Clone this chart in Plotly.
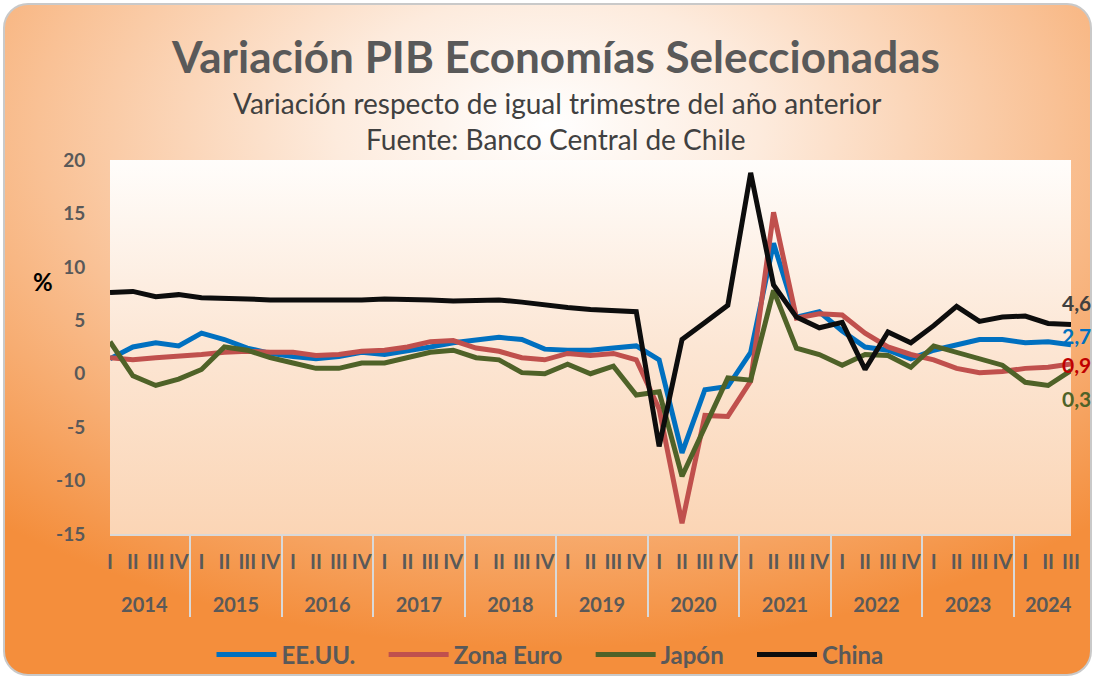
import base64
import plotly.graph_objects as go

years = ["2014", "2015", "2016", "2017", "2018", "2019", "2020", "2021", "2022", "2023", "2024"]
quarter_names = ["I", "II", "III", "IV"]
quarters_last_year = 3

usa = [1.4, 2.5, 2.9, 2.6, 3.8, 3.2, 2.4, 1.9, 1.6, 1.4, 1.6, 2.0,
       1.8, 2.1, 2.5, 2.9, 3.2, 3.4, 3.2, 2.3, 2.2, 2.2, 2.4, 2.6,
       1.3, -7.4, -1.5, -1.2, 2.0, 12.2, 5.3, 5.8, 4.0, 2.5, 2.2, 1.4,
       2.2, 2.7, 3.2, 3.2, 2.9, 3.0, 2.7]
euro = [1.5, 1.3, 1.5, 1.6, 1.8, 2.0, 2.1, 2.0, 2.0, 1.7, 1.8, 2.1,
        2.2, 2.5, 3.0, 3.1, 2.4, 2.1, 1.5, 1.3, 1.9, 1.7, 1.9, 1.3,
        -3.3, -14.0, -3.9, -4.0, -0.7, 15.1, 5.2, 5.6, 5.5, 3.8, 2.5, 1.8,
        1.3, 0.5, 0.1, 0.2, 0.5, 0.6, 0.9]
japan = [3.0, -0.2, -1.1, -0.5, 0.4, 2.5, 2.2, 1.5, 1.0, 0.5, 0.5, 1.0,
         1.0, 1.5, 2.0, 2.2, 1.5, 1.3, 0.1, 0.0, 0.9, 0.0, 0.7, -2.0,
         -1.7, -9.6, -5.0, -0.4, -0.6, 7.8, 2.4, 1.8, 0.8, 1.8, 1.7, 0.6,
         2.6, 2.0, 1.3, 0.8, -0.8, -1.1, 0.3]
china = [7.6, 7.7, 7.2, 7.4, 7.1, 7.1, 7.0, 6.9, 6.9, 6.8, 6.8, 6.9,
         7.0, 7.0, 6.9, 6.8, 6.9, 6.9, 6.7, 6.4, 6.2, 6.0, 5.9, 5.8,
         -6.8, 3.2, 4.8, 6.4, 18.8, 8.3, 5.3, 4.3, 4.8, 0.4, 3.9, 2.9,
         4.5, 6.3, 4.9, 5.3, 5.4, 4.7, 4.6]

series_names = ["EE.UU.", "Zona Euro", "Japón", "China"]
end_labels = ["2,7", "0,9", "0,3", "4,6"]
y_tick_values = [-15, -10, -5, 0, 5, 10, 15, 20]
y_tick_text = ["-15", "-10", "-5", "0", "5", "10", "15", "20"]

# multicategory x (year label shifted down one line, like the reference spacing)
x_year, x_q = [], []
for yi, y in enumerate(years):
    nq = quarters_last_year if yi == len(years) - 1 else 4
    for q in quarter_names[:nq]:
        x_year.append("\u00a0<br>" + y)
        x_q.append(q)

W, H = 1095, 677
ML, MR, MT, MB = 110, 24, 160, 143
PW, PH = W - ML - MR, H - MT - MB

svg = f'''<svg xmlns="http://www.w3.org/2000/svg" width="{W}" height="{H}" viewBox="0 0 {W} {H}" preserveAspectRatio="none">
<defs>
<radialGradient id="g" cx="0.5" cy="0.18" r="0.78">
<stop offset="0" stop-color="#FFFFFF"/>
<stop offset="0.25" stop-color="#FDEBDD"/>
<stop offset="0.6" stop-color="#F9C195"/>
<stop offset="1" stop-color="#F48E3C"/>
</radialGradient>
<linearGradient id="p" x1="0" y1="0" x2="0" y2="1">
<stop offset="0" stop-color="#FFFDFB"/>
<stop offset="0.5" stop-color="#FCE6D4"/>
<stop offset="1" stop-color="#FBD5B5"/>
</linearGradient>
</defs>
<rect x="4" y="4" width="{W-8}" height="{H-6}" rx="24" ry="24" fill="url(#g)" stroke="#C9C9C9" stroke-width="2"/>
<rect x="{ML}" y="{MT}" width="{PW}" height="{PH}" fill="url(#p)"/>
</svg>'''
src = "data:image/svg+xml;base64," + base64.b64encode(svg.encode()).decode()

colors = ["#0070C0", "#C0504D", "#4F6228", "#0D0D0D"]
label_colors = ["#0070C0", "#C00000", "#4F6228", "#404040"]
label_shift = [9, 0, -28, 22]
data_series = [usa, euro, japan, china]

fig = go.Figure()
for name, vals, c in zip(series_names, data_series, colors):
    fig.add_trace(go.Scatter(x=[x_year, x_q], y=vals, mode="lines",
                             name=name + "\u00a0\u00a0\u00a0\u00a0",
                             line=dict(color=c, width=5)))

font_family = "Lato, 'Open Sans', sans-serif"
annotations = [
    dict(text="Variación PIB Economías Seleccionadas", x=555, y=56, font=dict(size=44, color="#595959", weight="bold")),
    dict(text="Variación respecto de igual trimestre del año anterior", x=557, y=103, font=dict(size=28, color="#404040")),
    dict(text="Fuente: Banco Central de Chile", x=556, y=139, font=dict(size=28, color="#404040")),
    dict(text="%", x=43, y=281, font=dict(size=24, color="#000000", weight="bold")),
]
anns = []
for a in annotations:
    anns.append(dict(text=a["text"], xref="paper", yref="paper",
                     x=(a["x"] - ML) / PW, y=1 - (a["y"] - MT) / PH,
                     xanchor="center", yanchor="middle", showarrow=False,
                     font=dict(family=font_family, **a["font"])))
for vals, lab, c, sh in zip(data_series, end_labels, label_colors, label_shift):
    anns.append(dict(text=lab, xref="paper", yref="y", x=(1060 - ML) / PW, y=vals[-1],
                     yshift=sh, xanchor="left", yanchor="middle", showarrow=False,
                     font=dict(family=font_family, size=21, color=c, weight="bold")))

fig.update_layout(
    width=W, height=H,
    margin=dict(l=ML, r=MR, t=MT, b=MB, pad=0, autoexpand=False),
    paper_bgcolor="#FFFFFF",
    plot_bgcolor="rgba(0,0,0,0)",
    font=dict(family=font_family, color="#595959"),
    images=[dict(source=src, xref="paper", yref="paper", x=-ML / PW, y=1 + MT / PH,
                 sizex=W / PW, sizey=H / PH, xanchor="left", yanchor="top",
                 sizing="stretch", layer="below")],
    annotations=anns,
    showlegend=True,
    legend=dict(orientation="h", x=(562 - ML) / PW, xanchor="center", y=-(655 - (MT + PH)) / PH, yanchor="middle",
                font=dict(family=font_family, size=24, color="#595959", weight="bold"),
                bgcolor="rgba(0,0,0,0)", itemwidth=60, tracegroupgap=0),
    xaxis=dict(type="multicategory", showgrid=False, zeroline=False,
               showline=True, linecolor="#D9D9D9", linewidth=2,
               showdividers=True, dividercolor="#D9D9D9", dividerwidth=2,
               tickfont=dict(family=font_family, size=20, color="#595959", weight="bold"),
               tickmode="linear", tick0=0, dtick=1,
               tickangle=0, ticks="", ticklabelstandoff=9,
               fixedrange=True),
    yaxis=dict(range=[-15, 20], tickvals=y_tick_values, ticktext=y_tick_text,
               showgrid=False, zeroline=False, showline=False,
               ticks="outside", ticklen=20, tickcolor="rgba(0,0,0,0)",
               tickfont=dict(family=font_family, size=19, color="#595959", weight="bold"),
               fixedrange=True),
)

fig.write_html("out.html", config={"displayModeBar": False},
               post_script="document.body.style.margin='0';")
